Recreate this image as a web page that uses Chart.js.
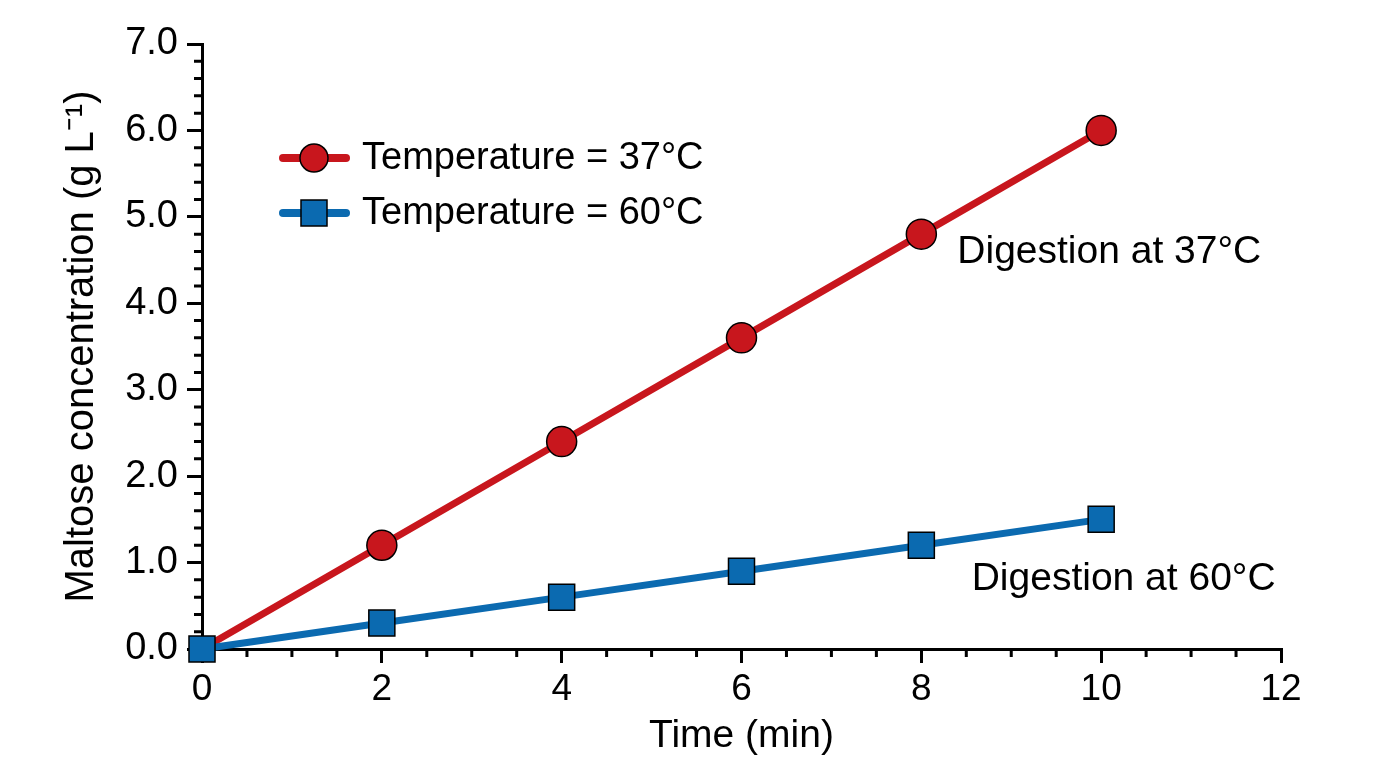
<!DOCTYPE html>
<html lang="en">
<head>
<meta charset="utf-8">
<title>Maltose concentration</title>
<script src="https://cdn.jsdelivr.net/npm/chart.js@4.4.1/dist/chart.umd.min.js"></script>
<style>
    html, body { margin: 0; padding: 0; background: #fff; }
    canvas { display: block; }
</style>
</head>
<body>
<canvas id="maltose-chart" width="1376" height="768"></canvas>
<script>
// data
const timeMin = [0, 2, 4, 6, 8, 10];
const maltose37 = [0, 1.2, 2.4, 3.6, 4.8, 6.0];
const maltose60 = [0, 0.3, 0.6, 0.9, 1.2, 1.5];
const seriesLabels = ['Temperature = 37°C', 'Temperature = 60°C'];
const annotationTexts = ['Digestion at 37°C', 'Digestion at 60°C'];
const xTickValues = [0, 2, 4, 6, 8, 10, 12];
const yTickValues = [0, 1, 2, 3, 4, 5, 6, 7];

const RED = '#c8161d';
const BLUE = '#0b6ab0';
const FONT = "'Liberation Sans', Arial, Helvetica, sans-serif";

function toPoints(xs, ys) {
    return xs.map((x, i) => ({x: x, y: ys[i]}));
}

// minor ticks, legend and the two text labels
const extrasPlugin = {
    id: 'extras',
    afterDraw(chart) {
        const ctx = chart.ctx;
        const xScale = chart.scales.x;
        const yScale = chart.scales.y;
        const area = chart.chartArea;

        ctx.save();
        ctx.strokeStyle = '#000';
        ctx.lineWidth = 3;
        ctx.beginPath();
        for (let i = 1; i < 24; i++) {
            if (i % 4 === 0) continue;
            const px = xScale.getPixelForValue(i * 0.5);
            ctx.moveTo(px, area.bottom);
            ctx.lineTo(px, area.bottom + 8);
        }
        for (let i = 0; i < 35; i++) {
            if (i % 5 === 0) continue;
            const py = yScale.getPixelForValue(i * 0.2);
            ctx.moveTo(area.left, py);
            ctx.lineTo(area.left - 8, py);
        }
        ctx.stroke();

        // legend
        const legendRows = [
            {label: seriesLabels[0], color: RED, style: 'circle', y: 158},
            {label: seriesLabels[1], color: BLUE, style: 'rect', y: 213}
        ];
        legendRows.forEach(row => {
            ctx.strokeStyle = row.color;
            ctx.lineWidth = 8;
            ctx.lineCap = 'round';
            ctx.beginPath();
            ctx.moveTo(283, row.y);
            ctx.lineTo(346, row.y);
            ctx.stroke();
            ctx.fillStyle = row.color;
            ctx.strokeStyle = '#000';
            ctx.lineWidth = 1.5;
            ctx.beginPath();
            if (row.style === 'circle') {
                ctx.arc(314, row.y, 14, 0, Math.PI * 2);
            } else {
                ctx.rect(301, row.y - 13, 26, 26);
            }
            ctx.fill();
            ctx.stroke();
            ctx.fillStyle = '#000';
            ctx.font = `38px ${FONT}`;
            ctx.textAlign = 'left';
            ctx.textBaseline = 'middle';
            ctx.fillText(row.label, 362, row.y + 1);
        });

        // text labels next to the lines
        ctx.fillStyle = '#000';
        ctx.font = `39px ${FONT}`;
        ctx.textAlign = 'left';
        ctx.textBaseline = 'middle';
        ctx.fillText(annotationTexts[0], xScale.getPixelForValue(8.4), yScale.getPixelForValue(4.59));
        ctx.fillText(annotationTexts[1], xScale.getPixelForValue(8.56), yScale.getPixelForValue(0.81));
        ctx.restore();
    }
};

const chartConfig = {
    type: 'line',
    data: {
        datasets: [
            {
                label: seriesLabels[0],
                data: toPoints(timeMin, maltose37),
                borderColor: RED,
                backgroundColor: RED,
                borderWidth: 7,
                pointStyle: 'circle',
                pointRadius: (c) => c.dataIndex === 0 ? 0 : 15,
                pointBorderColor: '#000',
                pointBorderWidth: 1.5,
                clip: false,
                order: 1
            },
            {
                label: seriesLabels[1],
                data: toPoints(timeMin, maltose60),
                borderColor: BLUE,
                backgroundColor: BLUE,
                borderWidth: 7,
                pointStyle: 'rect',
                pointRadius: 18.4,
                pointBorderColor: '#000',
                pointBorderWidth: 1.5,
                clip: false,
                order: 0
            }
        ]
    },
    options: {
        responsive: false,
        animation: false,
        devicePixelRatio: 1,
        layout: {
            padding: {top: 44, right: 95, bottom: 0, left: 0}
        },
        plugins: {
            legend: {display: false},
            tooltip: {enabled: false}
        },
        scales: {
            x: {
                type: 'linear',
                min: 0,
                max: 12,
                afterBuildTicks: (scale) => {
                    scale.ticks = xTickValues.map(v => ({value: v}));
                },
                afterFit: (scale) => {
                    scale.height = 119;
                },
                grid: {
                    drawOnChartArea: false,
                    drawTicks: true,
                    tickLength: 14,
                    color: '#000',
                    lineWidth: 3
                },
                border: {display: true, color: '#000', width: 3},
                ticks: {
                    color: '#000',
                    font: {family: FONT, size: 37},
                    padding: 5,
                    maxRotation: 0,
                    callback: (v) => String(v)
                },
                title: {
                    display: true,
                    text: 'Time (min)',
                    color: '#000',
                    font: {family: FONT, size: 39},
                    padding: {top: 0, bottom: 8}
                }
            },
            y: {
                type: 'linear',
                min: 0,
                max: 7,
                afterBuildTicks: (scale) => {
                    scale.ticks = yTickValues.map(v => ({value: v}));
                },
                afterFit: (scale) => {
                    scale.width = 202;
                },
                grid: {
                    drawOnChartArea: false,
                    drawTicks: true,
                    tickLength: 15,
                    color: '#000',
                    lineWidth: 3
                },
                border: {display: true, color: '#000', width: 3},
                ticks: {
                    color: '#000',
                    font: {family: FONT, size: 38},
                    padding: 9,
                    callback: (v) => v.toFixed(1)
                },
                title: {
                    display: true,
                    text: 'Maltose concentration (g L⁻¹)',
                    color: '#000',
                    font: {family: FONT, size: 40},
                    padding: {top: 58, bottom: 0}
                }
            }
        }
    },
    plugins: [extrasPlugin]
};

const maltoseChart = new Chart(document.getElementById('maltose-chart'), chartConfig);
</script>
</body>
</html>
